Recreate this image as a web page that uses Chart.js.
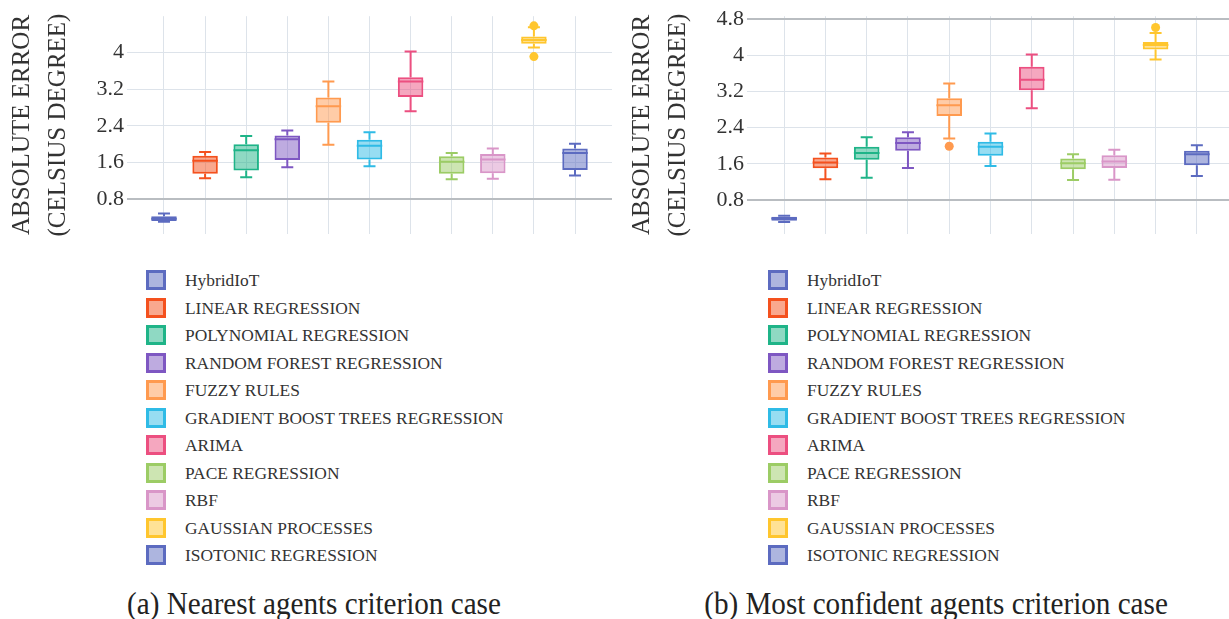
<!DOCTYPE html>
<html>
<head>
<meta charset="utf-8">
<script src="https://cdn.jsdelivr.net/npm/chart.js@4.4.0/dist/chart.umd.min.js"></script>
<style>
  html, body { margin: 0; padding: 0; background: #fff; }
  body { width: 1229px; height: 619px; overflow: hidden; position: relative; font-family: "Liberation Serif", serif; color: #333; }
  .chartBox { position: absolute; top: 0; }
  .legend { position: absolute; top: 270px; }
  .legend .row { height: 27.5px; display: flex; align-items: flex-start; }
  .legend .sq { width: 14px; height: 14px; border: 3px solid; box-sizing: content-box; margin-right: 19px; }
  .legend .txt { font-size: 17.4px; line-height: 20px; color: #333; white-space: nowrap; }
  .caption { position: absolute; top: 586px; font-size: 31px; line-height: 36px; color: #222; white-space: nowrap; transform: translateX(-50%) scaleX(0.94); }
</style>
</head>
<body>
<div class="chartBox" style="left:0px"><canvas id="nearest" width="615" height="250"></canvas></div>
<div class="chartBox" style="left:620px"><canvas id="confident" width="614" height="250"></canvas></div>
<div class="legend" id="legendA" style="left:146px"></div>
<div class="legend" id="legendB" style="left:768px"></div>
<div class="caption" style="left:314px">(a) Nearest agents criterion case</div>
<div class="caption" style="left:936px">(b) Most confident agents criterion case</div>
<script>
'use strict'
const methods = ["HybridIoT", "LINEAR REGRESSION", "POLYNOMIAL REGRESSION", "RANDOM FOREST REGRESSION",
    "FUZZY RULES", "GRADIENT BOOST TREES REGRESSION", "ARIMA", "PACE REGRESSION", "RBF",
    "GAUSSIAN PROCESSES", "ISOTONIC REGRESSION"]
const colors = ["#5c6bc0", "#f4511e", "#1fb488", "#7e57c2", "#ff9a4f", "#2fbbe6",
    "#ec4f80", "#9ccc65", "#d996c8", "#ffc62e", "#5c6bc0"]
const yTicks = [0.8, 1.6, 2.4, 3.2, 4, 4.8]

// (a) nearest agents
const nearestMin = [0.31, 1.26, 1.28, 1.50, 1.99, 1.52, 2.72, 1.24, 1.25, 4.11, 1.32]
const nearestQ1 = [0.33, 1.36, 1.43, 1.66, 2.47, 1.67, 3.03, 1.36, 1.37, 4.19, 1.44]
const nearestMedian = [0.38, 1.64, 1.87, 2.11, 2.83, 1.97, 3.37, 1.62, 1.67, 4.27, 1.81]
const nearestQ3 = [0.43, 1.75, 2.00, 2.19, 3.02, 2.10, 3.46, 1.74, 1.79, 4.35, 1.91]
const nearestMax = [0.49, 1.83, 2.18, 2.30, 3.37, 2.26, 4.02, 1.81, 1.91, 4.55, 2.01]
const nearestOutliers = [[], [], [], [], [], [], [], [], [], [4.58, 3.91], []]

// (b) most confident agents
const confidentMin = [0.31, 1.26, 1.29, 1.51, 2.16, 1.55, 2.83, 1.24, 1.25, 3.91, 1.33]
const confidentQ1 = [0.34, 1.50, 1.69, 1.89, 2.66, 1.78, 3.23, 1.48, 1.51, 4.13, 1.57]
const confidentMedian = [0.39, 1.63, 1.84, 2.06, 2.90, 1.98, 3.46, 1.61, 1.65, 4.23, 1.81]
const confidentQ3 = [0.43, 1.74, 1.98, 2.19, 3.05, 2.09, 3.75, 1.72, 1.79, 4.30, 1.89]
const confidentMax = [0.45, 1.83, 2.19, 2.30, 3.38, 2.27, 4.02, 1.81, 1.91, 4.50, 2.01]
const confidentOutliers = [[], [], [], [], [1.99], [], [], [], [], [4.62], []]

function fade(hex, a) {
    const n = parseInt(hex.slice(1), 16)
    return `rgba(${n >> 16},${(n >> 8) & 255},${n & 255},${a})`
}

function whiskerPlugin(mins, meds, maxs, q1s, q3s, outs) {
    return {
        id: "whiskers",
        afterDatasetsDraw(chart) {
            const ctx = chart.ctx
            const x = chart.scales.x
            const y = chart.scales.y
            const bars = chart.getDatasetMeta(0).data
            ctx.save()
            ctx.lineWidth = 2
            for (let i = 0; i < methods.length; i++) {
                const px = x.getPixelForValue(i)
                const half = bars[i].width / 2
                ctx.strokeStyle = colors[i]
                ctx.beginPath()
                ctx.moveTo(px, y.getPixelForValue(q3s[i]))
                ctx.lineTo(px, y.getPixelForValue(maxs[i]))
                ctx.moveTo(px, y.getPixelForValue(q1s[i]))
                ctx.lineTo(px, y.getPixelForValue(mins[i]))
                ctx.moveTo(px - 6, y.getPixelForValue(maxs[i]))
                ctx.lineTo(px + 6, y.getPixelForValue(maxs[i]))
                ctx.moveTo(px - 6, y.getPixelForValue(mins[i]))
                ctx.lineTo(px + 6, y.getPixelForValue(mins[i]))
                ctx.moveTo(px - half, y.getPixelForValue(meds[i]))
                ctx.lineTo(px + half, y.getPixelForValue(meds[i]))
                ctx.stroke()
                ctx.fillStyle = colors[i]
                for (const o of outs[i]) {
                    ctx.beginPath()
                    ctx.arc(px, y.getPixelForValue(o), 4.5, 0, Math.PI * 2)
                    ctx.fill()
                }
            }
            ctx.restore()
        }
    }
}

function makeChart(id, mins, q1s, meds, q3s, maxs, outs, yMax, darkTop) {
    const boxData = methods.map((m, i) => ({ x: i, y: [q1s[i], q3s[i]] }))
    return new Chart(document.getElementById(id), {
        type: "bar",
        data: {
            datasets: [{
                data: boxData,
                backgroundColor: colors.map(c => fade(c, 0.5)),
                borderColor: colors,
                borderWidth: 2,
                borderSkipped: false,
                barPercentage: 0.62,
                categoryPercentage: 1
            }]
        },
        options: {
            responsive: false,
            animation: false,
            layout: { padding: { top: 14, bottom: 12, left: 0, right: id === "nearest" ? 3 : 0 } },
            plugins: { legend: { display: false }, tooltip: { enabled: false } },
            scales: {
                x: {
                    type: "linear",
                    offset: false,
                    min: -0.9,
                    max: 10.9,
                    afterBuildTicks: s => { s.ticks = methods.map((m, i) => ({ value: i })) },
                    ticks: { display: false },
                    border: { display: false },
                    grid: { offset: false, color: "#dde3ea", lineWidth: 1, drawTicks: false }
                },
                y: {
                    min: 0.05,
                    max: yMax,
                    afterBuildTicks: s => { s.ticks = yTicks.filter(v => v <= yMax).map(v => ({ value: v })) },
                    afterFit: s => { s.width = 127 },
                    border: { display: false },
                    grid: {
                        drawTicks: false,
                        color: c => (c.tick.value === 0.8 || (darkTop && c.tick.value === 4.8)) ? "#b9bdc1" : "#dde3ea",
                        lineWidth: c => (c.tick.value === 0.8 || (darkTop && c.tick.value === 4.8)) ? 2 : 1
                    },
                    ticks: {
                        padding: 3,
                        color: "#333",
                        font: { family: "'Liberation Serif', serif", size: 22 },
                        callback: v => String(+v.toFixed(1))
                    },
                    title: {
                        display: true,
                        text: ["ABSOLUTE ERROR", "(CELSIUS DEGREE)"],
                        color: "#333",
                        padding: { top: 5, bottom: 0 },
                        font: { family: "'Liberation Serif', serif", size: 25, lineHeight: 1.42 }
                    }
                }
            }
        },
        plugins: [whiskerPlugin(mins, meds, maxs, q1s, q3s, outs)]
    })
}

function buildLegend(id) {
    const div = document.getElementById(id)
    for (let i = 0; i < methods.length; i++) {
        const row = document.createElement("div")
        row.className = "row"
        const sq = document.createElement("div")
        sq.className = "sq"
        sq.style.borderColor = colors[i]
        sq.style.background = fade(colors[i], 0.5)
        const txt = document.createElement("div")
        txt.className = "txt"
        txt.textContent = methods[i]
        row.appendChild(sq)
        row.appendChild(txt)
        div.appendChild(row)
    }
}

makeChart("nearest", nearestMin, nearestQ1, nearestMedian, nearestQ3, nearestMax, nearestOutliers, 4.79, false)
makeChart("confident", confidentMin, confidentQ1, confidentMedian, confidentQ3, confidentMax, confidentOutliers, 4.87, true)
buildLegend("legendA")
buildLegend("legendB")
</script>
</body>
</html>
